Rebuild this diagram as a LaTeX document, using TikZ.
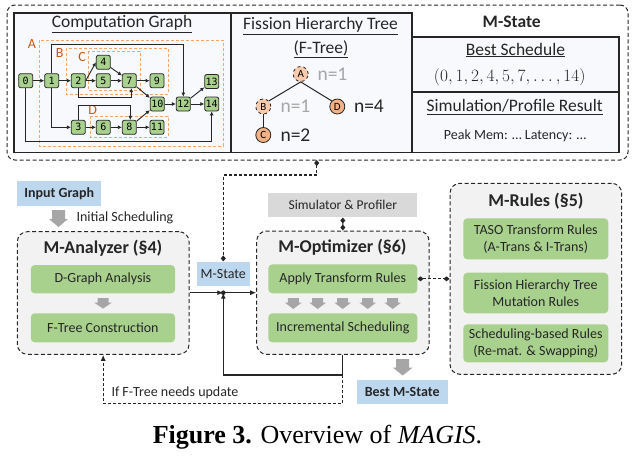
\documentclass[tikz,border=0pt]{standalone}
\usepackage{fontspec}
\setmainfont{Carlito}
\setmonofont{DejaVu Sans Mono}
\newfontfamily\capfont{Liberation Serif}
\usetikzlibrary{arrows.meta}
\definecolor{gfill}{HTML}{A9D18E}
\definecolor{bfill}{HTML}{BDD7EE}
\definecolor{sfill}{HTML}{D9D9D9}
\definecolor{cfill}{HTML}{F2F2F2}
\definecolor{pfill}{HTML}{F8F9FC}
\definecolor{odark}{HTML}{F4B183}
\definecolor{olight}{HTML}{F8CBAD}
\definecolor{oline}{HTML}{F4A66E}
\definecolor{otext}{HTML}{C55A11}
\definecolor{agray}{HTML}{A6A6A6}
\definecolor{ink}{HTML}{262626}
\newcommand{\grayarr}[6]{\fill[agray] ({#1-#4},#2) -- ({#1+#4},#2) -- ({#1+#4},{#3-#6}) -- ({#1+#5},{#3-#6}) -- (#1,#3) -- ({#1-#5},{#3-#6}) -- ({#1-#4},{#3-#6}) -- cycle;}
\tikzset{
  gnode/.style={draw=ink, fill=gfill, rounded corners=2pt, minimum size=14pt, inner sep=0.5pt, line width=0.8pt, font=\ttfamily\fontsize{10}{10}\selectfont},
  gedge/.style={draw=ink, line width=0.9pt, -{Latex[length=4pt,width=4pt]}},
  group/.style={draw=oline, line width=0.9pt, dash pattern=on 3pt off 2pt},
  glabel/.style={text=otext, font=\fontsize{14}{14}\selectfont},
  panel/.style={draw=ink, fill=pfill, line width=1.1pt},
  ttl/.style={text=ink, font=\fontsize{17.5}{20}\selectfont},
  btitle/.style={text=ink, font=\bfseries\fontsize{18}{20}\selectfont},
  fnode/.style={circle, draw=ink, minimum size=15pt, inner sep=0pt, line width=0.8pt, font=\fontsize{11}{11}\selectfont},
  ntext/.style={anchor=west, font=\fontsize{19.5}{20}\selectfont},
  outerbox/.style={draw=ink, line width=1pt, dash pattern=on 4pt off 2.5pt, rounded corners=8pt},
  container/.style={draw=ink, fill=cfill, line width=1pt, dash pattern=on 4pt off 2.5pt, rounded corners=10pt},
  greenbox/.style={fill=gfill, rounded corners=4pt, text=ink, align=center, font=\fontsize{14}{17}\selectfont},
  bluebox/.style={fill=bfill, text=ink, font=\fontsize{14}{17}\selectfont},
  plain/.style={text=ink, font=\fontsize{14}{17}\selectfont},
  conn/.style={draw=ink, line width=1.1pt},
  dconn/.style={draw=ink, line width=1.1pt, dash pattern=on 3pt off 2pt},
  tip/.style={-{Latex[length=6pt,width=5pt]}},
  dia/.style={{Diamond[length=6pt,width=5pt]}-{Diamond[length=6pt,width=5pt]}}
}
\begin{document}
\begin{tikzpicture}[x=1pt,y=-1pt]
\useasboundingbox (0,0) rectangle (634,459);

\node[outerbox, minimum width=621pt, minimum height=155pt] (top) at (317.5,82.5) {};
\node[panel, minimum width=217pt, minimum height=139.5pt] (cg) at (122.5,82.75) {};
\node[panel, minimum width=181pt, minimum height=139.5pt] (ft) at (321.5,82.75) {};
\node[panel, minimum width=207pt, minimum height=55pt] (bs) at (515.5,64.5) {};
\node[panel, minimum width=207pt, minimum height=60.5pt] (sp) at (515.5,122.25) {};

\node[ttl] (cgt) at (122,24) {\underline{Computation Graph}};
\node[ttl] (ftt) at (320.5,26) {\underline{Fission Hierarchy Tree}};
\node[ttl] (ftt2) at (321,49) {\underline{(F-Tree)}};
\node[text=ink, font=\bfseries\fontsize{17.5}{20}\selectfont] (mst) at (511.7,21.7) {M-State};
\node[ttl] (bst) at (515.5,50) {\underline{Best Schedule}};
\node[text=ink, font=\fontsize{17}{20}\selectfont] (bsv) at (509.7,77) {$(0, 1, 2, 4, 5, 7, \ldots, 14)$};
\node[ttl] (spt) at (514.7,107) {\underline{Simulation/Profile Result}};
\node[plain] (spv) at (515,136) {Peak Mem: … Latency: …};

\draw[group] (39,40) rectangle (223,146);
\draw[group] (66,48) rectangle (168,94);
\draw[group] (88,51) rectangle (140,90);
\draw[group] (90,116) rectangle (168,137);
\node[glabel] (lA) at (32,44) {A};
\node[glabel] (lB) at (59.7,52.7) {B};
\node[glabel] (lC) at (82,57) {C};
\node[glabel] (lD) at (92.7,110) {D};

\node[gnode] (n0) at (25.7,80.7) {0};
\node[gnode] (n1) at (51.7,80.7) {1};
\node[gnode] (n2) at (78.3,80.7) {2};
\node[gnode] (n4) at (103.3,62.3) {4};
\node[gnode] (n5) at (103.3,80.7) {5};
\node[gnode] (n7) at (129.3,80.7) {7};
\node[gnode] (n9) at (157,80.7) {9};
\node[gnode] (n10) at (157.3,104) {10};
\node[gnode] (n12) at (183.3,104) {12};
\node[gnode] (n13) at (211.7,81.5) {13};
\node[gnode] (n14) at (211.7,104) {14};
\node[gnode] (n3) at (78.3,127.3) {3};
\node[gnode] (n6) at (103.3,127.3) {6};
\node[gnode] (n8) at (129.3,127.3) {8};
\node[gnode] (n11) at (157,127.3) {11};

\coordinate (w1) at (51.7,44);
\coordinate (w2) at (78.3,97);
\coordinate (w3) at (78.3,105);
\coordinate (w0) at (25.7,141);

\draw[gedge] (n0) -- (n1);
\draw[gedge] (n1) -- (n2);
\draw[gedge] (n2.east) -- (n4.west);
\draw[gedge] (n2) -- (n5);
\draw[gedge] (n4) -- (n7);
\draw[gedge] (n5) -- (n7);
\draw[gedge] (n7) -- (n9);
\draw[gedge] (n7) -- (n10);
\draw[gedge] (n8) -- (n10);
\draw[gedge] (n10) -- (n12);
\draw[gedge] (n12) -- (n13);
\draw[gedge] (n12) -- (n14);
\draw[gedge] (n3) -- (n6);
\draw[gedge] (n6) -- (n8);
\draw[gedge] (n8) -- (n11);
\draw[gedge] (n1.north) -- (w1) -| (n12.north);
\draw[gedge] (n1.south) |- (n3.west);
\draw[gedge] (n2.south) -- (w2) -| ([xshift=2pt]n7.south);
\draw[gedge] (n3.north) -- (w3) -| ([xshift=1pt]n8.north);
\draw[gedge] (n0.south) -- (w0) -| (n14.south);

\node[fnode, fill=olight, dashed] (A) at (300.7,74) {A};
\node[fnode, fill=olight, dashed] (B) at (263.3,106.5) {B};
\node[fnode, fill=odark] (D) at (337.3,106.5) {D};
\node[fnode, fill=odark] (C) at (263.3,135) {C};
\draw[ink, line width=1pt] (A.south) -- (B.north east);
\draw[ink, line width=1pt] (A.south) -- (D.north west);
\draw[ink, line width=1pt] (B.south) -- (C.north);
\node[ntext, text=agray] (nA) at (314,74) {n=1};
\node[ntext, text=agray] (nB) at (277,106.5) {n=1};
\node[ntext, text=ink] (nD) at (350.5,106.5) {n=4};
\node[ntext, text=ink] (nC) at (277,135) {n=2};

\node[bluebox, font=\bfseries\fontsize{14}{17}\selectfont, minimum width=83.7pt, minimum height=24.7pt] (inp) at (59.2,193.3) {Input Graph};
\grayarr{58.5}{210}{227}{6.5}{9.5}{8}
\node[plain, anchor=west] (isch) at (73,218.3) {Initial Scheduling};

\node[container, minimum width=171.7pt, minimum height=122.6pt] (ana) at (103.2,293) {};
\node[btitle] (anat) at (103,248.3) {M-Analyzer (§4)};
\node[greenbox, minimum width=144.3pt, minimum height=28.3pt] (dga) at (102.9,279.2) {D-Graph Analysis};
\node[greenbox, minimum width=144.3pt, minimum height=29pt] (ftc) at (102.9,327.8) {F-Tree Construction};
\grayarr{103}{298}{308.5}{5.5}{9}{6}

\node[bluebox, minimum width=53.3pt, minimum height=24.3pt] (ms) at (223.3,273.8) {M-State};

\node[fill=sfill, text=ink, font=\fontsize{13.5}{17}\selectfont, minimum width=149pt, minimum height=24pt] (sim) at (342.8,205.3) {Simulator \& Profiler};
\node[container, minimum width=172.3pt, minimum height=123.3pt] (opt) at (342.85,292.65) {};
\node[btitle] (optt) at (342.5,247.3) {M-Optimizer (§6)};
\node[greenbox, minimum width=149pt, minimum height=29pt] (apply) at (342.8,278.8) {Apply Transform Rules};
\node[greenbox, minimum width=149pt, minimum height=29pt] (inc) at (342.8,327.8) {Incremental Scheduling};
\foreach \ax in {293.3,317.7,342.7,367.7,392.7}{
  \grayarr{\ax}{298}{309}{5.5}{8.5}{6.5}
}

\node[container, minimum width=171.7pt, minimum height=191pt] (rules) at (535.85,278.8) {};
\node[btitle] (rulest) at (536,200.7) {M-Rules (§5)};
\node[greenbox, minimum width=145pt, minimum height=41pt] (r1) at (535.8,238.8) {TASO Transform Rules\\(A-Trans \& I-Trans)};
\node[greenbox, minimum width=145pt, minimum height=40.6pt] (r2) at (535.8,293) {Fission Hierarchy Tree\\Mutation Rules};
\node[greenbox, minimum width=145pt, minimum height=38pt] (r3) at (535.8,343.3) {Scheduling-based Rules\\(Re-mat. \& Swapping)};

\grayarr{402.7}{359}{375.5}{6.5}{10}{8}
\node[bluebox, font=\bfseries\fontsize{14}{17}\selectfont, minimum width=91pt, minimum height=24.3pt] (best) at (402.2,392.2) {Best M-State};

\coordinate (topd) at (316.7,160);
\coordinate (jn) at (223.3,292.7);
\coordinate (fb) at (342.85,375);
\coordinate (fb2) at (342.85,403.3);

\draw[dconn, dia] (topd) -- ++(0,15) -| (ms.north);
\draw[conn, dia] (sim.south) -- (opt.north);
\draw[dconn, dia] (apply.east) -- (rules.west |- apply.east);
\draw[conn, tip] (ana.east |- jn) -- (jn);
\draw[conn, tip] (jn) -- (opt.west |- jn);
\draw[conn, tip] (opt.south) -- (fb) -| (jn);
\fill[ink] (jn) circle (2.3pt);
\draw[dconn, tip] (fb) -- (fb2) -| (ana.south);
\node[plain, anchor=west] (upd) at (108,392.3) {If F-Tree needs update};

\node[text=black, font=\capfont\fontsize{26}{29}\selectfont] (cap) at (317.5,437) {\textbf{Figure 3.} Overview of \textit{MAGIS}.};
\end{tikzpicture}
\end{document}
